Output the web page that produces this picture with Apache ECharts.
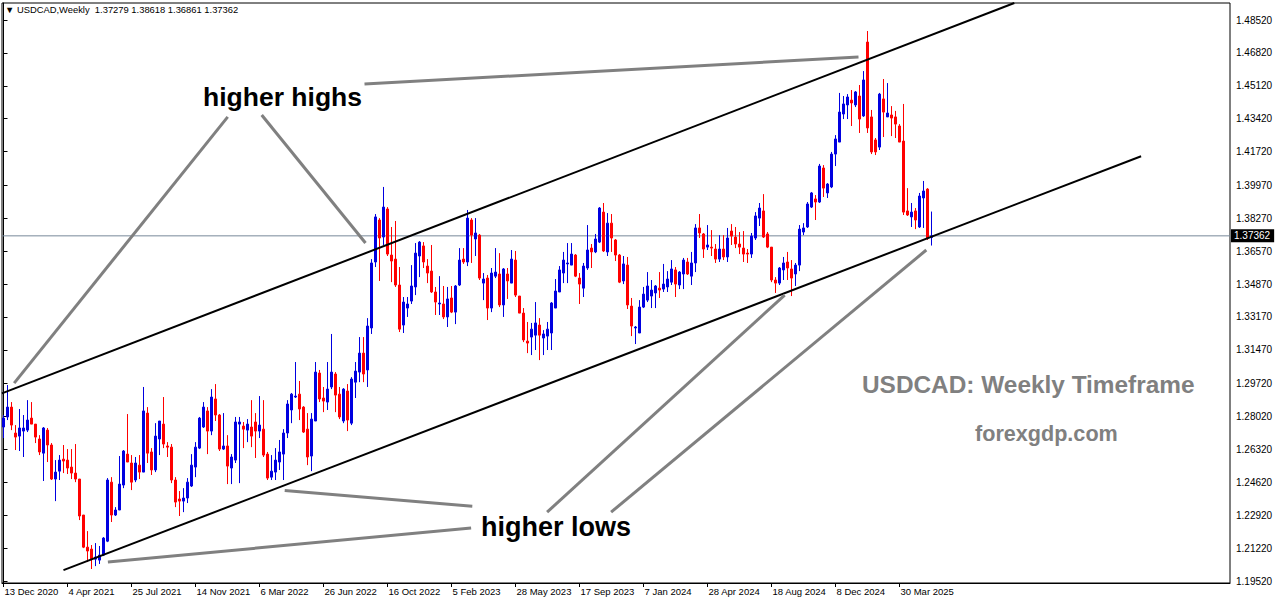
<!DOCTYPE html>
<html><head><meta charset="utf-8">
<script src="https://cdn.jsdelivr.net/npm/echarts@6/dist/echarts.min.js"></script>
<style>html,body{margin:0;padding:0;background:#fff}#c{width:1276px;height:604px}</style>
</head><body><div id="c"></div>
<script>
// Weekly USDCAD bars, first bar = week of 13 Dec 2020
const opens = [1.2748,1.2800,1.2851,1.2717,1.2701,1.2727,1.2732,1.2794,1.2763,1.2686,
1.2613,1.2732,1.2655,1.2479,1.2520,1.2582,1.2577,1.2541,1.2510,1.2479,
1.2293,1.2127,1.2117,1.2065,1.2060,1.2086,1.2158,1.2463,1.2293,1.2319,
1.2448,1.2608,1.2562,1.2474,1.2551,1.2515,1.2820,1.2619,1.2526,1.2686,
1.2763,1.2650,1.2644,1.2474,1.2376,1.2365,1.2381,1.2443,1.2541,1.2639,
1.2748,1.2831,1.2727,1.2893,1.2810,1.2634,1.2650,1.2536,1.2577,1.2763,
1.2753,1.2732,1.2748,1.2774,1.2727,1.2737,1.2608,1.2489,1.2515,1.2567,
1.2608,1.2717,1.2836,1.2903,1.2918,1.2851,1.2737,1.2598,1.2779,1.3027,
1.2898,1.2877,1.2955,1.3022,1.2918,1.2779,1.2934,1.2768,1.2980,1.3032,
1.3130,1.3043,1.3260,1.3601,1.3818,1.3730,1.3875,1.3637,1.3616,1.3482,
1.3275,1.3363,1.3399,1.3472,1.3632,1.3684,1.3580,1.3554,1.3446,1.3384,
1.3384,1.3317,1.3415,1.3342,1.3482,1.3616,1.3601,1.3818,1.3720,1.3740,
1.3492,1.3518,1.3363,1.3528,1.3539,1.3379,1.3539,1.3492,1.3611,1.3425,
1.3337,1.3192,1.3213,1.3223,1.3275,1.3208,1.3218,1.3234,1.3363,1.3446,
1.3544,1.3591,1.3585,1.3637,1.3518,1.3466,1.3570,1.3673,1.3653,1.3704,
1.3859,1.3653,1.3802,1.3715,1.3637,1.3503,1.3585,1.3373,1.3260,1.3234,
1.3368,1.3404,1.3425,1.3441,1.3466,1.3461,1.3472,1.3497,1.3560,1.3482,
1.3539,1.3601,1.3528,1.3596,1.3777,1.3746,1.3678,1.3678,1.3668,1.3616,
1.3668,1.3627,1.3761,1.3730,1.3694,1.3673,1.3647,1.3642,1.3725,1.3828,
1.3865,1.3746,1.3678,1.3508,1.3492,1.3560,1.3601,1.3565,1.3539,1.3585,
1.3756,1.3782,1.3885,1.3927,1.3911,1.4087,1.3958,1.3989,1.4159,1.4221,
1.4366,1.4413,1.4438,1.4413,1.4459,1.4356,1.4738,1.4351,1.4232,1.4195,
1.4444,1.4351,1.4361,1.4351,1.4304,1.4226,1.3865,1.3834,1.3865,1.3782,
1.3932,1.3978,1.37279];
const closes = [1.2794,1.2851,1.2758,1.2696,1.2743,1.2743,1.2784,1.2763,1.2696,1.2619,
1.2743,1.2655,1.2479,1.2515,1.2577,1.2572,1.2536,1.2510,1.2479,1.2288,
1.2127,1.2107,1.2065,1.2076,1.2086,1.2174,1.2474,1.2293,1.2319,1.2453,
1.2624,1.2567,1.2463,1.2562,1.2515,1.2831,1.2613,1.2526,1.2701,1.2779,
1.2660,1.2644,1.2474,1.2360,1.2365,1.2381,1.2463,1.2551,1.2644,1.2794,
1.2851,1.2727,1.2903,1.2810,1.2634,1.2650,1.2546,1.2593,1.2774,1.2774,
1.2737,1.2763,1.2701,1.2727,1.2758,1.2603,1.2484,1.2520,1.2577,1.2619,
1.2717,1.2867,1.2918,1.2908,1.2841,1.2722,1.2593,1.2789,1.3032,1.2893,
1.2882,1.2944,1.3032,1.2913,1.2800,1.2944,1.2784,1.2996,1.3037,1.3130,
1.3022,1.3270,1.3596,1.3834,1.3725,1.3885,1.3642,1.3606,1.3482,1.3254,
1.3394,1.3384,1.3477,1.3647,1.3704,1.3601,1.3544,1.3446,1.3394,1.3389,
1.3317,1.3410,1.3342,1.3477,1.3611,1.3601,1.3828,1.3740,1.3751,1.3518,
1.3513,1.3363,1.3544,1.3549,1.3379,1.3565,1.3503,1.3616,1.3430,1.3337,
1.3198,1.3182,1.3254,1.3286,1.3223,1.3229,1.3254,1.3389,1.3451,1.3560,
1.3611,1.3596,1.3642,1.3528,1.3487,1.3580,1.3663,1.3653,1.3720,1.3880,
1.3658,1.3802,1.3725,1.3637,1.3497,1.3591,1.3379,1.3270,1.3265,1.3368,
1.3435,1.3477,1.3456,1.3477,1.3456,1.3487,1.3513,1.3565,1.3487,1.3549,
1.3611,1.3539,1.3596,1.3777,1.3751,1.3668,1.3689,1.3673,1.3616,1.3668,
1.3627,1.3725,1.3735,1.3694,1.3678,1.3642,1.3642,1.3735,1.3839,1.3880,
1.3730,1.3678,1.3508,1.3492,1.3570,1.3596,1.3570,1.3518,1.3585,1.3771,
1.3777,1.3901,1.3958,1.3911,1.4097,1.3983,1.4004,1.4159,1.4237,1.4376,
1.4418,1.4454,1.4423,1.4480,1.4340,1.4542,1.4294,1.4170,1.4170,1.4469,
1.4376,1.4371,1.4345,1.4314,1.4221,1.3859,1.3844,1.3859,1.3818,1.3942,
1.3968,1.3725,1.37362];
const lows = [1.2691,1.2784,1.2732,1.2629,1.2624,1.2593,1.2722,1.2763,1.2665,1.2603,
1.2469,1.2567,1.2474,1.2365,1.2474,1.2510,1.2505,1.2479,1.2463,1.2267,
1.2122,1.2050,1.2014,1.2029,1.2040,1.2081,1.2153,1.2257,1.2288,1.2319,
1.2432,1.2567,1.2422,1.2463,1.2479,1.2515,1.2562,1.2500,1.2515,1.2603,
1.2639,1.2593,1.2458,1.2334,1.2288,1.2308,1.2355,1.2438,1.2489,1.2634,
1.2743,1.2608,1.2706,1.2779,1.2624,1.2629,1.2453,1.2453,1.2562,1.2458,
1.2639,1.2670,1.2644,1.2588,1.2691,1.2593,1.2474,1.2474,1.2474,1.2526,
1.2474,1.2691,1.2768,1.2898,1.2784,1.2717,1.2551,1.2520,1.2779,1.2877,
1.2825,1.2836,1.2944,1.2825,1.2789,1.2768,1.2727,1.2758,1.2898,1.2980,
1.2980,1.2955,1.3229,1.3575,1.3503,1.3689,1.3632,1.3497,1.3472,1.3239,
1.3234,1.3317,1.3384,1.3430,1.3523,1.3570,1.3492,1.3441,1.3327,1.3327,
1.3306,1.3265,1.3337,1.3280,1.3477,1.3591,1.3580,1.3596,1.3632,1.3508,
1.3404,1.3301,1.3342,1.3518,1.3368,1.3317,1.3410,1.3492,1.3420,1.3337,
1.3187,1.3130,1.3120,1.3146,1.3094,1.3120,1.3146,1.3146,1.3363,1.3446,
1.3492,1.3492,1.3585,1.3523,1.3384,1.3420,1.3560,1.3570,1.3647,1.3699,
1.3653,1.3632,1.3653,1.3606,1.3492,1.3487,1.3358,1.3218,1.3177,1.3234,
1.3363,1.3394,1.3363,1.3363,1.3415,1.3446,1.3446,1.3482,1.3420,1.3461,
1.3461,1.3534,1.3482,1.3549,1.3725,1.3622,1.3663,1.3632,1.3596,1.3601,
1.3611,1.3601,1.3689,1.3673,1.3642,1.3601,1.3596,1.3622,1.3715,1.3787,
1.3725,1.3673,1.3497,1.3441,1.3482,1.3508,1.3508,1.3425,1.3477,1.3554,
1.3740,1.3777,1.3880,1.3818,1.3906,1.3937,1.3932,1.3983,1.4097,1.4221,
1.4340,1.4340,1.4304,1.4402,1.4268,1.4351,1.4268,1.4159,1.4154,1.4180,
1.4247,1.4351,1.4252,1.4242,1.4221,1.3844,1.3839,1.3782,1.3771,1.3777,
1.3777,1.3715,1.36861];
const highs = [1.2810,1.2965,1.2877,1.2758,1.2841,1.2810,1.2887,1.2877,1.2763,1.2706,
1.2748,1.2743,1.2665,1.2577,1.2603,1.2655,1.2634,1.2634,1.2660,1.2479,
1.2293,1.2210,1.2138,1.2148,1.2133,1.2179,1.2484,1.2489,1.2334,1.2598,
1.2629,1.2815,1.2603,1.2593,1.2603,1.2955,1.2851,1.2639,1.2768,1.2779,
1.2903,1.2670,1.2660,1.2489,1.2417,1.2432,1.2484,1.2608,1.2670,1.2800,
1.2877,1.2851,1.2944,1.2970,1.2815,1.2820,1.2706,1.2608,1.2800,1.2800,
1.2774,1.2789,1.2887,1.2820,1.2908,1.2887,1.2619,1.2603,1.2639,1.2681,
1.2737,1.2887,1.2924,1.3084,1.2986,1.2856,1.2820,1.2820,1.3084,1.3043,
1.2955,1.3084,1.3229,1.3032,1.2955,1.2949,1.2970,1.3006,1.3084,1.3213,
1.3213,1.3311,1.3616,1.3849,1.3828,1.3989,1.3885,1.3782,1.3813,1.3575,
1.3420,1.3420,1.3585,1.3699,1.3709,1.3704,1.3616,1.3689,1.3472,1.3528,
1.3477,1.3472,1.3477,1.3482,1.3673,1.3673,1.3870,1.3828,1.3828,1.3746,
1.3544,1.3534,1.3570,1.3673,1.3647,1.3570,1.3570,1.3663,1.3658,1.3425,
1.3363,1.3291,1.3286,1.3394,1.3311,1.3249,1.3291,1.3394,1.3513,1.3580,
1.3653,1.3699,1.3699,1.3642,1.3544,1.3596,1.3792,1.3694,1.3746,1.3885,
1.3906,1.3854,1.3849,1.3720,1.3642,1.3632,1.3627,1.3415,1.3270,1.3404,
1.3472,1.3549,1.3508,1.3482,1.3549,1.3591,1.3554,1.3611,1.3575,1.3554,
1.3622,1.3622,1.3653,1.3797,1.3849,1.3751,1.3792,1.3766,1.3694,1.3740,
1.3740,1.3777,1.3797,1.3782,1.3756,1.3761,1.3668,1.3751,1.3859,1.3906,
1.3952,1.3756,1.3678,1.3523,1.3575,1.3627,1.3653,1.3611,1.3596,1.3792,
1.3802,1.3911,1.3963,1.3947,1.4108,1.4102,1.4009,1.4170,1.4257,1.4475,
1.4459,1.4469,1.4490,1.4485,1.4516,1.4588,1.4795,1.4387,1.4242,1.4475,
1.4547,1.4526,1.4407,1.4382,1.4314,1.4418,1.3983,1.3906,1.3880,1.3958,
1.4020,1.3983,1.38618];

const tickLabels = ['13 Dec 2020','4 Apr 2021','25 Jul 2021','14 Nov 2021','6 Mar 2022','26 Jun 2022',
  '16 Oct 2022','5 Feb 2023','28 May 2023','17 Sep 2023','7 Jan 2024','28 Apr 2024','18 Aug 2024',
  '8 Dec 2024','30 Mar 2025'];
const tickBars = [0,16,32,48,64,80,96,112,128,144,160,176,192,208,224];
const priceTicks = [1.48520,1.46820,1.45120,1.43420,1.41720,1.39970,1.38270,1.36570,1.34870,
  1.33170,1.31470,1.29720,1.28020,1.26320,1.24620,1.22920,1.21220,1.19520];

// channel lines and annotation arrows: [bar index, price]
const upperChannel = [[-0.4, 1.2922], [252.7, 1.4940]];
const lowerChannel = [[15.0, 1.2008], [284.4, 1.4148]];
const pointerLines = [
  [[56.06, 1.4351], [2.67, 1.2975]],
  [[64.55, 1.4361], [90.5, 1.3699]],
  [[90.25, 1.4521], [213.75, 1.4661]],
  [[117.2, 1.2339], [70.3, 1.2420]],
  [[116.9, 1.2226], [26.1, 1.2050]],
  [[135.9, 1.2308], [195.3, 1.3430]],
  [[151.9, 1.2308], [230.7, 1.3663]]
];

const X_MIN = -0.375, X_MAX = 306.625;
const n = opens.length;
const candleData = opens.map((o, i) => [i, o, closes[i], lows[i], highs[i]]);
const last = n - 1;
const fmt = v => v.toFixed(5);
const header = '\u25BC USDCAD,Weekly  ' + fmt(opens[last]) + ' ' + fmt(highs[last]) + ' ' + fmt(lows[last]) + ' ' + fmt(closes[last]);

const chart = echarts.init(document.getElementById('c'), null, {renderer: 'svg'});
const F = 'Liberation Sans, Arial, sans-serif';
const series = [{
  type: 'candlestick',
  data: candleData,
  encode: {x: 0, y: [1, 2, 3, 4]},
  barWidth: 2,
  itemStyle: {color: '#0000e0', color0: '#ff0000', borderColor: '#0000e0', borderColor0: '#ff0000', borderWidth: 1},
  z: 2
}, {
  // current price (bid) line
  type: 'line', data: [[X_MIN, closes[last]], [X_MAX, closes[last]]], symbol: 'none', silent: true, clip: false,
  lineStyle: {color: '#778899', width: 1},
  endLabel: {show: true, formatter: fmt(closes[last]), backgroundColor: '#000', color: '#fff',
    fontSize: 10, fontFamily: F, padding: [2, 4, 1, 3], distance: 1},
  z: 1
}];
[upperChannel, lowerChannel].forEach(d => series.push({
  type: 'line', data: d, symbol: 'none', clip: true, silent: true,
  lineStyle: {color: '#000', width: 2}, z: 4
}));
pointerLines.forEach(d => series.push({
  type: 'line', data: d, symbol: 'none', clip: true, silent: true,
  lineStyle: {color: '#808080', width: 3}, z: 5
}));

chart.setOption({
  animation: false,
  backgroundColor: '#fff',
  title: {text: header, left: 5, top: 5, padding: 0, textStyle: {fontSize: 9.4, fontWeight: 'normal', color: '#000', fontFamily: F}},
  grid: {left: 2, right: 46, top: 3, bottom: 21, show: true, borderColor: '#000', borderWidth: 1, backgroundColor: '#fff'},
  xAxis: {
    type: 'value', min: X_MIN, max: X_MAX,
    axisLine: {show: true, lineStyle: {color: '#000'}},
    splitLine: {show: false},
    axisTick: {show: true, length: 4, lineStyle: {color: '#000'}, customValues: tickBars},
    axisLabel: {customValues: tickBars, align: 'left', margin: 3, fontSize: 9.5, fontFamily: F, color: '#000',
      padding: [0, 0, 0, 1], formatter: v => tickLabels[tickBars.indexOf(Math.round(v))] || ''}
  },
  yAxis: {
    type: 'value', position: 'right', min: 1.19417, max: 1.49399, scale: true,
    axisLine: {show: true, lineStyle: {color: '#000'}},
    splitLine: {show: false},
    axisTick: {show: true, length: 4, lineStyle: {color: '#000'}, customValues: priceTicks},
    axisLabel: {customValues: priceTicks, margin: 6, fontSize: 10, fontFamily: F, color: '#000', formatter: v => v.toFixed(5)}
  },
  graphic: [
    {type: 'text', left: 203, top: 83, style: {text: 'higher highs', font: 'bold 26.5px ' + F, fill: '#000'}},
    {type: 'text', left: 481, top: 513, style: {text: 'higher lows', font: 'bold 27px ' + F, fill: '#000'}},
    {type: 'text', left: 862, top: 372, style: {text: 'USDCAD: Weekly Timeframe', font: 'bold 24.4px ' + F, fill: '#808080'}},
    {type: 'text', left: 975, top: 422, style: {text: 'forexgdp.com', font: 'bold 21.6px ' + F, fill: '#808080'}}
  ],
  series: series
});
</script>
</body></html>
